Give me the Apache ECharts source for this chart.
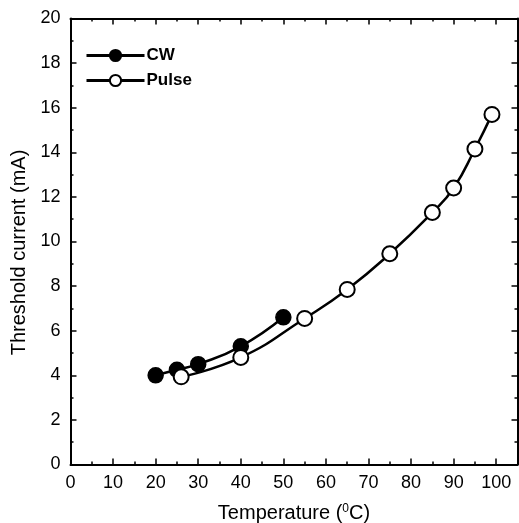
<!DOCTYPE html>
<html><head><meta charset="utf-8">
<script src="https://cdn.jsdelivr.net/npm/echarts@6/dist/echarts.min.js"></script>
<style>html,body{margin:0;padding:0;background:#fff}#c{width:519px;height:523px}</style>
</head><body><div id="c"></div>
<script>
const cwTemp = [20, 25, 30, 40, 50];
const cwCurrent = [4.0, 4.25, 4.5, 5.3, 6.6];
const pulseTemp = [26, 40, 55, 65, 75, 85, 90, 95, 99];
const pulseCurrent = [3.93, 4.8, 6.55, 7.85, 9.45, 11.3, 12.4, 14.15, 15.7];
const xTicks = [0,10,20,30,40,50,60,70,80,90,100];
const yTicks = [0,2,4,6,8,10,12,14,16,18,20];

const font = 'Liberation Sans, Arial, sans-serif';
const chart = echarts.init(document.getElementById('c'));
const axBase = {
  axisLine: {show: true, onZero: false, lineStyle: {color: '#000', width: 2}},
  axisTick: {show: true, inside: true, length: 6, lineStyle: {color: '#000', width: 1.5}},
  minorTick: {show: true, splitNumber: 2, length: 3, lineStyle: {color: '#000', width: 1.5}},
  splitLine: {show: false}
};
chart.setOption({
  animation: false,
  grid: {left: 70.5, right: 1.5, top: 18.5, bottom: 58.5, containLabel: false, outerBoundsMode: 'none'},
  legend: {
    left: 80, top: 42, orient: 'vertical', itemGap: 8,
    itemWidth: 58, itemHeight: 14,
    lineStyle: {width: 3},
    textStyle: {fontFamily: font, fontSize: 17, fontWeight: 'bold', color: '#000', padding: [0,0,0,-3]},
    data: ['CW', 'Pulse']
  },
  xAxis: [
    Object.assign({}, axBase, {
      type: 'value', min: 0, max: 105, interval: 10, position: 'bottom',
      axisLabel: {fontFamily: font, fontSize: 18, color: '#000', margin: 10,
        formatter: v => xTicks.includes(v) ? String(v) : ''},
      name: 'Temperature ({sup|0}C)', nameLocation: 'middle', nameGap: 38,
      nameTextStyle: {fontFamily: font, fontSize: 20, color: '#000',
        rich: {sup: {fontFamily: font, fontSize: 12, color: '#000', verticalAlign: 'top', padding: [0,0,10,0]}}}
    }),
    Object.assign({}, axBase, {
      type: 'value', min: 0, max: 105, interval: 10, position: 'top',
      axisLabel: {show: false}
    })
  ],
  yAxis: [
    Object.assign({}, axBase, {
      type: 'value', min: 0, max: 20, interval: 2, position: 'left',
      axisLabel: {fontFamily: font, fontSize: 18, color: '#000', margin: 10,
        formatter: v => yTicks.includes(v) ? String(v) : ''},
      name: 'Threshold current (mA)', nameLocation: 'middle', nameGap: 40, nameRotate: 90,
      nameTextStyle: {fontFamily: font, fontSize: 20, color: '#000', padding: [0,22,0,0]}
    }),
    Object.assign({}, axBase, {
      type: 'value', min: 0, max: 20, interval: 2, position: 'right',
      axisLabel: {show: false}
    })
  ],
  series: [
    {
      name: 'CW', type: 'line', smooth: true,
      data: cwTemp.map((t, i) => [t, cwCurrent[i]]),
      symbol: 'circle', symbolSize: 15,
      lineStyle: {color: '#000', width: 2.5},
      itemStyle: {color: '#000', borderColor: '#000', borderWidth: 1.5},
      z: 3
    },
    {
      name: 'Pulse', type: 'line', smooth: true,
      data: pulseTemp.map((t, i) => [t, pulseCurrent[i]]),
      symbol: 'circle', symbolSize: 15,
      lineStyle: {color: '#000', width: 2.5},
      itemStyle: {color: '#fff', borderColor: '#000', borderWidth: 2},
      z: 4
    }
  ]
});
</script></body></html>
